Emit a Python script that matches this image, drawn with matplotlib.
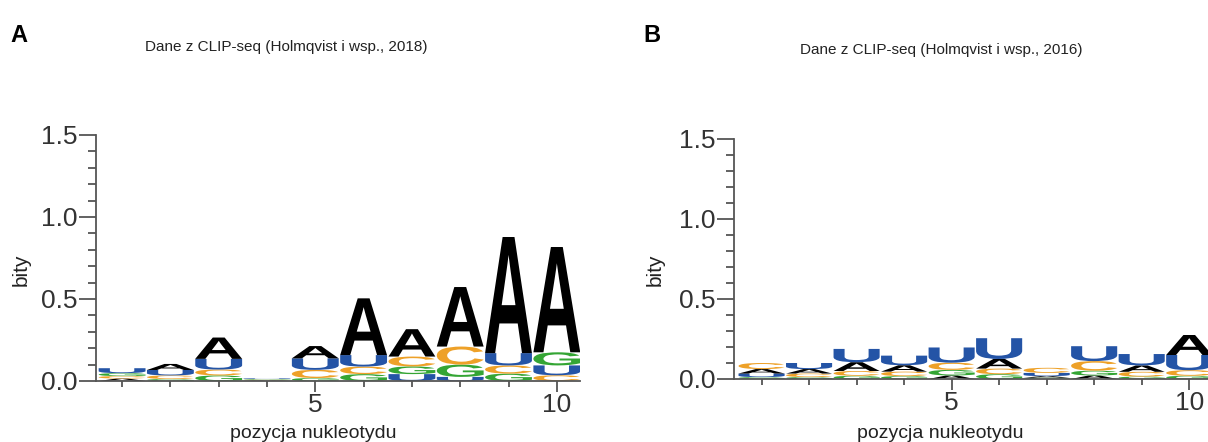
import numpy as np
import matplotlib
matplotlib.use("Agg")
import matplotlib.pyplot as plt
from matplotlib.textpath import TextPath
from matplotlib.patches import PathPatch
from matplotlib.font_manager import FontProperties
from matplotlib.transforms import Affine2D
from matplotlib.ticker import MultipleLocator

plt.rcParams["font.family"] = ["Liberation Sans", "DejaVu Sans"]

positions = np.arange(1, 11)
letters = ["A", "C", "G", "U"]

# panel A - letter heights in bits, per position 1..10
a_A = [0.015, 0.037, 0.130, 0.004, 0.075, 0.346, 0.167, 0.363, 0.708, 0.642]
a_C = [0.015, 0.022, 0.036, 0.004, 0.050, 0.046, 0.060, 0.110, 0.050, 0.035]
a_G = [0.018, 0.012, 0.034, 0.004, 0.018, 0.042, 0.047, 0.075, 0.045, 0.080]
a_U = [0.030, 0.033, 0.065, 0.004, 0.070, 0.070, 0.042, 0.025, 0.075, 0.060]

# panel B
b_A = [0.028, 0.028, 0.055, 0.040, 0.022, 0.060, 0.010, 0.022, 0.040, 0.125]
b_C = [0.038, 0.022, 0.030, 0.028, 0.045, 0.035, 0.032, 0.060, 0.030, 0.035]
b_G = [0.012, 0.012, 0.020, 0.018, 0.035, 0.030, 0.008, 0.030, 0.015, 0.020]
b_U = [0.022, 0.038, 0.083, 0.060, 0.095, 0.130, 0.020, 0.093, 0.071, 0.095]

titles = ["Dane z CLIP-seq (Holmqvist i wsp., 2018)",
          "Dane z CLIP-seq (Holmqvist i wsp., 2016)"]

colors = {"A": "#000000", "C": "#eea128", "G": "#34a534", "U": "#2454a6"}
glyph_font = FontProperties(family="Liberation Sans", weight="bold")
axis_col = "#555555"


def draw_letter(ax, letter, x, y, w, h):
    tp = TextPath((0, 0), letter, size=1, prop=glyph_font)
    bb = tp.get_extents()
    tr = (Affine2D().translate(-bb.x0, -bb.y0)
          .scale(w / bb.width, h / bb.height)
          .translate(x - w / 2, y) + ax.transData)
    ax.add_patch(PathPatch(tp, transform=tr, lw=0, fc=colors[letter]))


def draw_logo(ax, heights):
    for i, x in enumerate(positions):
        col = sorted([(l, heights[l][i]) for l in letters], key=lambda t: t[1])
        y = 0.0
        for l, h in col:
            draw_letter(ax, l, x, y, 0.97, h)
            y += h


def style_axes(ax, xlim):
    ax.set_xlim(*xlim)
    ax.set_ylim(0, 1.5)
    for s in ["top", "right"]:
        ax.spines[s].set_visible(False)
    for s in ["left", "bottom"]:
        ax.spines[s].set_color(axis_col)
        ax.spines[s].set_linewidth(1.3)
    ax.set_yticks([0, 0.5, 1.0, 1.5])
    ax.set_yticklabels(["0.0", "0.5", "1.0", "1.5"])
    ax.yaxis.set_minor_locator(MultipleLocator(0.1))
    ax.set_xticks([5, 10])
    ax.set_xticks(positions, minor=True)
    ax.tick_params(which="both", colors=axis_col, labelcolor="#333333", width=1.3, labelsize=19)
    ax.tick_params(axis="y", which="major", length=12, pad=1)
    ax.tick_params(axis="y", which="minor", length=6)
    ax.tick_params(axis="x", which="major", length=8, pad=1)
    ax.tick_params(axis="x", which="minor", length=4)


fig = plt.figure(figsize=(12.08, 4.42), dpi=100)
W, H = 1208, 442

ax1 = fig.add_axes([96 / W, (H - 381) / H, 484 / W, 246 / H])
ax2 = fig.add_axes([734 / W, (H - 379) / H, 478 / W, 240 / H])

style_axes(ax1, (0.46, 10.48))
style_axes(ax2, (0.42, 10.48))
draw_logo(ax1, {"A": a_A, "C": a_C, "G": a_G, "U": a_U})
draw_logo(ax2, {"A": b_A, "C": b_C, "G": b_G, "U": b_U})

fig.text(286 / W, 1 - 47 / H, titles[0], ha="center", va="center", fontsize=11, color="#222222")
fig.text(941 / W, 1 - 50 / H, titles[1], ha="center", va="center", fontsize=11, color="#222222")
fig.text(10 / W, 1 - 35 / H, "A", ha="left", va="center", fontsize=17, weight="bold")
fig.text(643 / W, 1 - 35 / H, "B", ha="left", va="center", fontsize=17, weight="bold")
fig.text(313 / W, 1 - 433 / H, "pozycja nukleotydu", ha="center", va="center", fontsize=14, color="#222222")
fig.text(940 / W, 1 - 433 / H, "pozycja nukleotydu", ha="center", va="center", fontsize=14, color="#222222")
fig.text(21 / W, 1 - 270 / H, "bity", ha="center", va="center", rotation=90, fontsize=15, color="#222222")
fig.text(655 / W, 1 - 270 / H, "bity", ha="center", va="center", rotation=90, fontsize=15, color="#222222")

fig.savefig("out.png", dpi=100)
